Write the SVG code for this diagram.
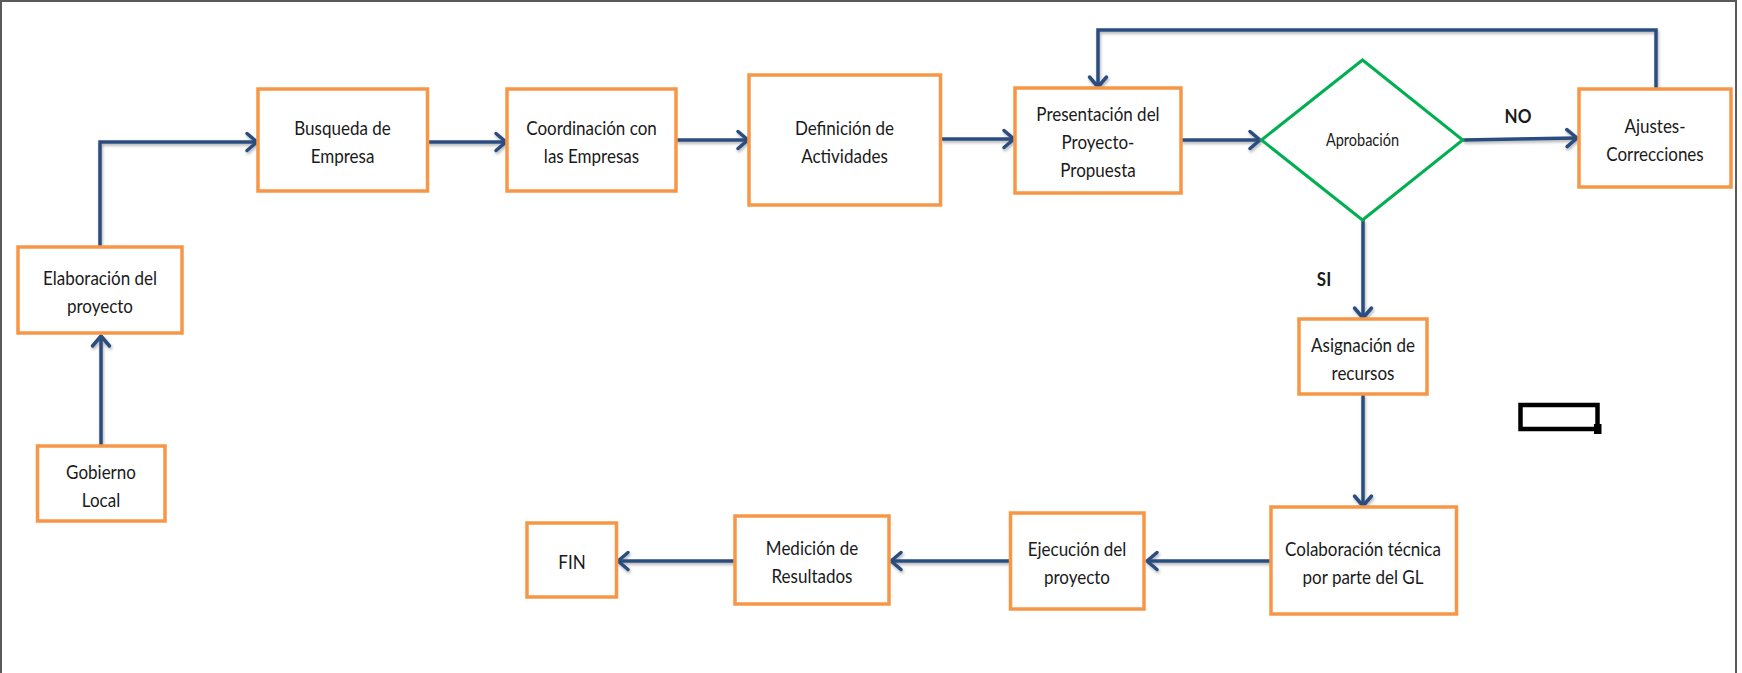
<svg xmlns="http://www.w3.org/2000/svg" width="1742" height="673" viewBox="0 0 1742 673">
  <style>
    .box { fill: #ffffff; stroke: #F79646; stroke-width: 3.5; }
    .dec { fill: #ffffff; stroke: #00B050; stroke-width: 3; }
    .lbl { font-family: Lato, "Liberation Sans", sans-serif; font-size: 17px; fill: #1a1a1a; text-anchor: middle;
           transform-box: fill-box; transform-origin: center; transform: scaleY(1.16); }
    .small { font-size: 14.5px; }
    .bold { font-weight: bold; font-size: 17px; }
    .con { fill: none; stroke: #2C4D7F; stroke-width: 3.5; stroke-linejoin: miter; }
    .frame { stroke: #5a5a5a; stroke-width: 2; fill: none; }
  </style>
  <defs>
    <marker id="arrow" markerUnits="userSpaceOnUse" markerWidth="16" markerHeight="22" viewBox="0 0 16 22" refX="13" refY="11" orient="auto">
      <path d="M3,2.5 L13,11 L3,19.5" fill="none" stroke="#2C4D7F" stroke-width="3.5" stroke-linejoin="round" stroke-linecap="round"/>
    </marker>
    <filter id="shadow" x="-10%" y="-10%" width="120%" height="120%">
      <feDropShadow dx="1" dy="2" stdDeviation="1.4" flood-color="#000000" flood-opacity="0.3"/>
    </filter>
  </defs>

  <rect width="1742" height="673" fill="#ffffff"/>
  <!-- page frame -->
  <path class="frame" d="M1,673 V1 H1736 V673"/>

  <!-- connectors -->
  <g id="connectors" filter="url(#shadow)">
    <path class="con" d="M101,446 V336" marker-end="url(#arrow)"/>
    <path class="con" d="M100,247 V142 H257" marker-end="url(#arrow)"/>
    <path class="con" d="M427,142 H506" marker-end="url(#arrow)"/>
    <path class="con" d="M676,140 H748" marker-end="url(#arrow)"/>
    <path class="con" d="M941,139 H1014" marker-end="url(#arrow)"/>
    <path class="con" d="M1181,140 H1260" marker-end="url(#arrow)"/>
    <path class="con" d="M1463,140 L1577,138" marker-end="url(#arrow)"/>
    <path class="con" d="M1656,89 V30 H1098 V87" marker-end="url(#arrow)"/>
    <path class="con" d="M1363,220 V318" marker-end="url(#arrow)"/>
    <path class="con" d="M1363,394 V506" marker-end="url(#arrow)"/>
    <path class="con" d="M1271,561 H1147" marker-end="url(#arrow)"/>
    <path class="con" d="M1010,561 H891" marker-end="url(#arrow)"/>
    <path class="con" d="M735,561 H618" marker-end="url(#arrow)"/>
  </g>

  <!-- edge labels -->
  <g id="edge-labels">
    <text class="lbl bold" x="1518" y="122">NO</text>
    <text class="lbl bold" x="1324" y="285">SI</text>
  </g>

  <g id="gobierno-local">
    <rect class="box" x="37.5" y="446" width="127.5" height="75"/>
    <text class="lbl" x="101" y="477.5">Gobierno</text>
    <text class="lbl" x="101" y="505.5">Local</text>
  </g>

  <g id="elaboracion">
    <rect class="box" x="18" y="247" width="164" height="86"/>
    <text class="lbl" x="100" y="284">Elaboración del</text>
    <text class="lbl" x="100" y="312">proyecto</text>
  </g>

  <g id="busqueda">
    <rect class="box" x="258" y="89" width="169.5" height="102"/>
    <text class="lbl" x="342.5" y="134">Busqueda de</text>
    <text class="lbl" x="342.5" y="162">Empresa</text>
  </g>

  <g id="coordinacion">
    <rect class="box" x="507" y="89" width="169" height="102"/>
    <text class="lbl" x="591.5" y="134">Coordinación con</text>
    <text class="lbl" x="591.5" y="162">las Empresas</text>
  </g>

  <g id="definicion">
    <rect class="box" x="749" y="75" width="191.5" height="130"/>
    <text class="lbl" x="844.5" y="134">Definición de</text>
    <text class="lbl" x="844.5" y="162">Actividades</text>
  </g>

  <g id="presentacion">
    <rect class="box" x="1015" y="88" width="166" height="105"/>
    <text class="lbl" x="1098" y="120">Presentación del</text>
    <text class="lbl" x="1098" y="148">Proyecto-</text>
    <text class="lbl" x="1098" y="176">Propuesta</text>
  </g>

  <g id="aprobacion">
    <polygon class="dec" points="1362.5,60 1462.7,140 1362.5,220 1261.5,140"/>
    <text class="lbl small" x="1362.5" y="145">Aprobación</text>
  </g>

  <g id="ajustes">
    <rect class="box" x="1579" y="89" width="152" height="98"/>
    <text class="lbl" x="1655" y="132">Ajustes-</text>
    <text class="lbl" x="1655" y="160">Correcciones</text>
  </g>

  <g id="asignacion">
    <rect class="box" x="1299" y="319" width="128" height="75"/>
    <text class="lbl" x="1363" y="350.5">Asignación de</text>
    <text class="lbl" x="1363" y="378.5">recursos</text>
  </g>

  <g id="colaboracion">
    <rect class="box" x="1271" y="507" width="185.5" height="107"/>
    <text class="lbl" x="1363" y="554.5">Colaboración técnica</text>
    <text class="lbl" x="1363" y="582.5">por parte del GL</text>
  </g>

  <g id="ejecucion">
    <rect class="box" x="1010.5" y="513" width="133.5" height="96"/>
    <text class="lbl" x="1077" y="555">Ejecución del</text>
    <text class="lbl" x="1077" y="583">proyecto</text>
  </g>

  <g id="medicion">
    <rect class="box" x="735" y="516" width="154" height="88"/>
    <text class="lbl" x="812" y="554">Medición de</text>
    <text class="lbl" x="812" y="582">Resultados</text>
  </g>

  <g id="fin">
    <rect class="box" x="527" y="523" width="89.5" height="74"/>
    <text class="lbl" x="572" y="568">FIN</text>
  </g>

  <!-- empty black frame with a handle at its lower right -->
  <g id="empty-shape">
    <rect x="1520.5" y="405" width="77" height="24" fill="none" stroke="#000000" stroke-width="4.5"/>
    <rect x="1594" y="424" width="7.5" height="10" fill="#000000"/>
  </g>
</svg>
